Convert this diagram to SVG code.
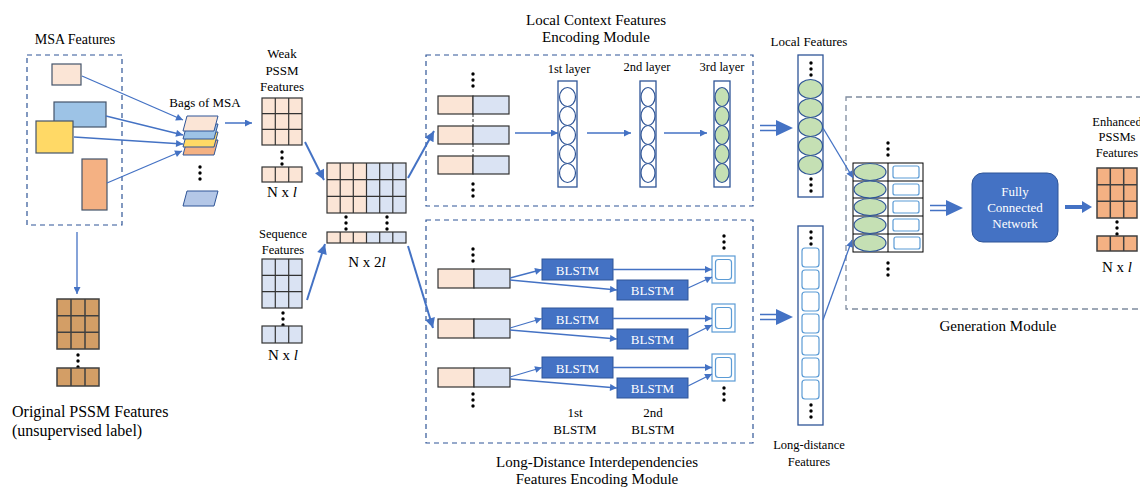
<svg xmlns="http://www.w3.org/2000/svg" width="1140" height="487" viewBox="0 0 1140 487">
<style>
text{font-family:"Liberation Serif","Times New Roman",serif;fill:#000}
.s12{font-size:12.5px}.s13{font-size:13px}.s14{font-size:14px}.s15{font-size:15px}
.nx{font-size:15px}
.mid{text-anchor:middle}
.pe{fill:#FBE5D6;stroke:#333;stroke-width:1.2}
.lb{fill:#DAE3F3;stroke:#333;stroke-width:1.2}
.gl{stroke:#333;stroke-width:1.2;fill:none}
.dash{fill:none;stroke:#2F5597;stroke-width:1.2;stroke-dasharray:5 4}
.gdash{fill:none;stroke:#7F8C9F;stroke-width:1.3;stroke-dasharray:6 4}
.col{fill:#fff;stroke:#2F5597;stroke-width:1.3}
.ew{fill:#fff;stroke:#2F5597;stroke-width:1.2}
.eg{fill:#C5E0B4;stroke:#2F5597;stroke-width:1.2}
.sq{fill:#fff;stroke:#5B9BD5;stroke-width:1.2}
.bl{fill:#4472C4;stroke:#2F5597;stroke-width:1}
.wt{fill:#fff}
.c{stroke:#4472C4;stroke-width:1.3;fill:none;marker-end:url(#ah)}
.ct{stroke:#4472C4;stroke-width:2;fill:none;marker-end:url(#ahb)}
.dbl{stroke:#4472C4;stroke-width:1.5;fill:none}
.af{fill:#4472C4}
.dot{fill:#000}
</style>
<defs>
<marker id="ah" viewBox="0 0 10 10" refX="10" refY="5" markerWidth="9" markerHeight="7" markerUnits="userSpaceOnUse" orient="auto"><path d="M0,0L10,5L0,10z" fill="#4472C4"/></marker>
<marker id="ahb" viewBox="0 0 10 10" refX="10" refY="5" markerWidth="12" markerHeight="10" markerUnits="userSpaceOnUse" orient="auto"><path d="M0,0L10,5L0,10z" fill="#4472C4"/></marker>
<g id="v3"><circle cx="0" cy="0" r="1.7"/><circle cx="0" cy="6" r="1.7"/><circle cx="0" cy="12" r="1.7"/></g>
</defs>

<!-- MSA Features -->
<g id="msa">
<text class="s14 mid" x="75" y="44">MSA Features</text>
<rect class="dash" x="27" y="55" width="95" height="170"/>
<rect x="52" y="64" width="29" height="21" fill="#FBE5D6" stroke="#44546A" stroke-width="1.2"/>
<rect x="54" y="102" width="52" height="25" fill="#9DC3E6" stroke="#44546A" stroke-width="1.2"/>
<rect x="36" y="121" width="37" height="32" fill="#FFD966" stroke="#44546A" stroke-width="1.2"/>
<rect x="82" y="159" width="25" height="51" fill="#F4B183" stroke="#44546A" stroke-width="1.2"/>
</g>

<!-- Bags of MSA -->
<g id="bags">
<text class="s13 mid" x="205" y="107">Bags of MSA</text>
<path d="M187,140H218L214,155H183z" fill="#F4B183" stroke="#2F5597" stroke-width="1"/>
<path d="M187,132H218L214,147H183z" fill="#FFD966" stroke="#2F5597" stroke-width="1"/>
<path d="M187,124H218L214,139H183z" fill="#9DC3E6" stroke="#2F5597" stroke-width="1"/>
<path d="M187,116H218L214,131H183z" fill="#FBE5D6" stroke="#2F5597" stroke-width="1"/>
<use href="#v3" x="200" y="167" class="dot"/>
<path d="M187,191H218L214,206H183z" fill="#B4C7E7" stroke="#2F5597" stroke-width="1"/>
</g>

<!-- Original PSSM -->
<g id="orig">
<rect x="57" y="299" width="42" height="50" fill="#D39E66" stroke="#404040" stroke-width="1.5"/>
<path d="M71,299V349M85,299V349M57,315.7H99M57,332.3H99" stroke="#404040" stroke-width="1.5"/>
<use href="#v3" x="78" y="355" class="dot"/>
<rect x="57" y="368" width="42" height="18" fill="#D39E66" stroke="#404040" stroke-width="1.5"/>
<path d="M71,368V386M85,368V386" stroke="#404040" stroke-width="1.5"/>
<text x="12" y="417" style="font-size:16px">Original PSSM Features</text>
<text x="12" y="436" style="font-size:16px">(unsupervised label)</text>
</g>

<!-- Weak PSSM -->
<g id="weak">
<text class="s13 mid" x="282" y="58">Weak</text>
<text class="s13 mid" x="282" y="75">PSSM</text>
<text class="s13 mid" x="282" y="91">Features</text>
<rect class="pe" x="262" y="98" width="40" height="47"/>
<path class="gl" d="M275.3,98V145M288.7,98V145M262,113.7H302M262,129.3H302"/>
<use href="#v3" x="282" y="152" class="dot"/>
<rect class="pe" x="262" y="167" width="40" height="15"/>
<path class="gl" d="M275.3,167V182M288.7,167V182"/>
<text class="nx mid" x="282" y="197">N x <tspan font-style="italic">l</tspan></text>
</g>

<!-- Sequence -->
<g id="seq">
<text class="s12 mid" x="283" y="238">Sequence</text>
<text class="s12 mid" x="283" y="254">Features</text>
<rect class="lb" x="262" y="259" width="40" height="49"/>
<path class="gl" d="M275.3,259V308M288.7,259V308M262,275.3H302M262,291.7H302"/>
<use href="#v3" x="283" y="313" class="dot"/>
<rect class="lb" x="262" y="326" width="40" height="17"/>
<path class="gl" d="M275.3,326V343M288.7,326V343"/>
<text class="nx mid" x="283" y="360">N x <tspan font-style="italic">l</tspan></text>
</g>

<!-- Combined -->
<g id="comb">
<rect x="327" y="163" width="39.5" height="50" fill="#FBE5D6"/>
<rect x="366.5" y="163" width="39.5" height="50" fill="#DAE3F3"/>
<rect class="gl" x="327" y="163" width="79" height="50"/>
<path class="gl" d="M340.2,163V213M353.3,163V213M366.5,163V213M379.7,163V213M392.8,163V213M327,179.7H406M327,196.3H406"/>
<use href="#v3" x="346" y="217" class="dot"/>
<use href="#v3" x="387" y="217" class="dot"/>
<rect x="327" y="232" width="39.5" height="11" fill="#FBE5D6"/>
<rect x="366.5" y="232" width="39.5" height="11" fill="#DAE3F3"/>
<rect class="gl" x="327" y="232" width="79" height="11"/>
<path class="gl" d="M340.2,232V243M353.3,232V243M366.5,232V243M379.7,232V243M392.8,232V243"/>
<text class="nx mid" x="367" y="267">N x 2<tspan font-style="italic">l</tspan></text>
</g>

<!-- Local context module -->
<g id="local">
<text class="s15 mid" x="596" y="25">Local Context Features</text>
<text class="s15 mid" x="596" y="42">Encoding Module</text>
<rect class="dash" x="426" y="55" width="327" height="151"/>
<use href="#v3" x="473" y="74" class="dot"/>
<rect class="pe" x="438" y="96" width="35" height="18"/><rect class="lb" x="473" y="96" width="36" height="18"/>
<rect class="pe" x="438" y="126" width="35" height="18"/><rect class="lb" x="473" y="126" width="36" height="18"/>
<rect class="pe" x="438" y="156" width="35" height="18"/><rect class="lb" x="473" y="156" width="36" height="18"/>
<path d="M473,114V126M473,144V156" stroke="#333" stroke-width="1" stroke-dasharray="3 2"/>
<use href="#v3" x="473" y="184" class="dot"/>
<text class="s12 mid" x="569" y="73">1st layer</text>
<text class="s12 mid" x="647" y="71">2nd layer</text>
<text class="s12 mid" x="722" y="71">3rd layer</text>
<rect class="col" x="558" y="81" width="19" height="106"/>
<ellipse class="ew" cx="567.5" cy="97" rx="8" ry="9.5"/><ellipse class="ew" cx="567.5" cy="116" rx="8" ry="9.5"/><ellipse class="ew" cx="567.5" cy="135" rx="8" ry="9.5"/><ellipse class="ew" cx="567.5" cy="154" rx="8" ry="9.5"/><ellipse class="ew" cx="567.5" cy="173" rx="8" ry="9.5"/>
<rect class="col" x="640" y="81" width="16" height="106"/>
<ellipse class="ew" cx="648" cy="97" rx="7" ry="9.5"/><ellipse class="ew" cx="648" cy="116" rx="7" ry="9.5"/><ellipse class="ew" cx="648" cy="135" rx="7" ry="9.5"/><ellipse class="ew" cx="648" cy="154" rx="7" ry="9.5"/><ellipse class="ew" cx="648" cy="173" rx="7" ry="9.5"/>
<rect class="col" x="714" y="81" width="16" height="106"/>
<ellipse class="eg" cx="722" cy="97" rx="7" ry="9.5"/><ellipse class="eg" cx="722" cy="116" rx="7" ry="9.5"/><ellipse class="eg" cx="722" cy="135" rx="7" ry="9.5"/><ellipse class="eg" cx="722" cy="154" rx="7" ry="9.5"/><ellipse class="eg" cx="722" cy="173" rx="7" ry="9.5"/>
</g>

<!-- Long-distance module -->
<g id="longmod">
<rect class="dash" x="426" y="220" width="327" height="223"/>
<use href="#v3" x="473" y="249" class="dot"/>
<rect class="pe" x="438" y="269" width="36" height="19"/><rect class="lb" x="474" y="269" width="36" height="19"/>
<rect class="pe" x="438" y="319" width="36" height="19"/><rect class="lb" x="474" y="319" width="36" height="19"/>
<rect class="pe" x="438" y="368" width="36" height="19"/><rect class="lb" x="474" y="368" width="36" height="19"/>
<use href="#v3" x="473" y="394" class="dot"/>
<rect class="bl" x="542" y="259" width="71" height="21"/><text class="s13 mid wt" x="577.5" y="274.5">BLSTM</text>
<rect class="bl" x="617" y="280" width="71" height="20"/><text class="s13 mid wt" x="652.5" y="295">BLSTM</text>
<rect class="bl" x="542" y="308" width="71" height="21"/><text class="s13 mid wt" x="577.5" y="323.5">BLSTM</text>
<rect class="bl" x="617" y="329" width="71" height="20"/><text class="s13 mid wt" x="652.5" y="344">BLSTM</text>
<rect class="bl" x="542" y="357" width="71" height="21"/><text class="s13 mid wt" x="577.5" y="372.5">BLSTM</text>
<rect class="bl" x="617" y="378" width="71" height="20"/><text class="s13 mid wt" x="652.5" y="393">BLSTM</text>
<use href="#v3" x="724" y="236" class="dot"/>
<rect class="sq" x="712" y="256" width="23" height="27"/><rect class="sq" x="715.5" y="259.5" width="16" height="20" rx="3"/>
<rect class="sq" x="712" y="304" width="23" height="28"/><rect class="sq" x="715.5" y="307.5" width="16" height="21" rx="3"/>
<rect class="sq" x="712" y="354" width="23" height="27"/><rect class="sq" x="715.5" y="357.5" width="16" height="20" rx="3"/>
<use href="#v3" x="724" y="388" class="dot"/>
<text class="s13 mid" x="575" y="417">1st</text><text class="s13 mid" x="575" y="434">BLSTM</text>
<text class="s13 mid" x="653" y="417">2nd</text><text class="s13 mid" x="653" y="434">BLSTM</text>
<text class="s15 mid" x="597" y="467">Long-Distance Interdependencies</text>
<text class="s15 mid" x="597" y="484">Features Encoding Module</text>
</g>

<!-- Local Features column -->
<g id="localfeat">
<text class="s13 mid" x="809" y="46">Local Features</text>
<rect class="col" x="798" y="55" width="25" height="142"/>
<use href="#v3" x="811" y="63" class="dot"/>
<ellipse class="eg" cx="810.5" cy="89" rx="12" ry="9.5"/><ellipse class="eg" cx="810.5" cy="108" rx="12" ry="9.5"/><ellipse class="eg" cx="810.5" cy="127" rx="12" ry="9.5"/><ellipse class="eg" cx="810.5" cy="146" rx="12" ry="9.5"/><ellipse class="eg" cx="810.5" cy="165" rx="12" ry="9.5"/>
<use href="#v3" x="811" y="179" class="dot"/>
</g>

<!-- Long-distance features column -->
<g id="longfeat">
<rect class="col" x="798" y="226" width="25" height="199"/>
<use href="#v3" x="811" y="232" class="dot"/>
<rect class="sq" x="802" y="248" width="17" height="19" rx="3"/>
<rect class="sq" x="802" y="270" width="17" height="19" rx="3"/>
<rect class="sq" x="802" y="292" width="17" height="19" rx="3"/>
<rect class="sq" x="802" y="314" width="17" height="19" rx="3"/>
<rect class="sq" x="802" y="336" width="17" height="19" rx="3"/>
<rect class="sq" x="802" y="358" width="17" height="19" rx="3"/>
<rect class="sq" x="802" y="380" width="17" height="19" rx="3"/>
<use href="#v3" x="811" y="405" class="dot"/>
<text class="s12 mid" x="809" y="449">Long-distance</text>
<text class="s12 mid" x="809" y="466">Features</text>
</g>

<!-- Generation module -->
<g id="gen">
<rect class="gdash" x="846" y="97" width="310" height="212"/>
<text class="s15 mid" x="998" y="331">Generation Module</text>
<use href="#v3" x="888" y="143" class="dot"/>
<rect x="853" y="163" width="70" height="89" fill="#fff" stroke="#000" stroke-width="1"/>
<path d="M888,163V252M853,181H923M853,198H923M853,216H923M853,234H923" stroke="#000" stroke-width="1"/>
<ellipse class="eg" cx="870" cy="172" rx="16" ry="8.5"/><ellipse class="eg" cx="870" cy="189.5" rx="16" ry="8.5"/><ellipse class="eg" cx="870" cy="207" rx="16" ry="8.5"/><ellipse class="eg" cx="870" cy="225" rx="16" ry="8.5"/><ellipse class="eg" cx="870" cy="243" rx="16" ry="8.5"/>
<rect class="sq" x="893" y="166" width="26" height="12" rx="2"/>
<rect class="sq" x="893" y="184" width="26" height="11" rx="2"/>
<rect class="sq" x="893" y="201" width="26" height="12" rx="2"/>
<rect class="sq" x="893" y="219" width="26" height="12" rx="2"/>
<rect class="sq" x="894" y="237" width="26" height="12" rx="2"/>
<use href="#v3" x="888" y="263" class="dot"/>
<rect x="972" y="173" width="86" height="69" rx="11" fill="#4472C4" stroke="#2F5597" stroke-width="1"/>
<text class="s13 mid wt" x="1015" y="196">Fully</text>
<text class="s13 mid wt" x="1015" y="212">Connected</text>
<text class="s13 mid wt" x="1015" y="228">Network</text>
<text class="s12 mid" x="1117" y="126">Enhanced</text>
<text class="s12 mid" x="1117" y="141">PSSMs</text>
<text class="s12 mid" x="1117" y="157">Features</text>
<rect x="1097" y="168" width="40" height="50" fill="#F4B183" stroke="#404040" stroke-width="1.5"/>
<path d="M1110.3,168V218M1123.7,168V218M1097,184.7H1137M1097,201.3H1137" stroke="#404040" stroke-width="1.5"/>
<use href="#v3" x="1117" y="222" class="dot"/>
<rect x="1097" y="236" width="40" height="15" fill="#F4B183" stroke="#404040" stroke-width="1.5"/>
<path d="M1110.3,236V251M1123.7,236V251" stroke="#404040" stroke-width="1.5"/>
<text class="nx mid" x="1117" y="272">N x <tspan font-style="italic">l</tspan></text>
</g>

<!-- Connectors -->
<g id="connectors">
<path class="c" d="M82,76L183,120"/>
<path class="c" d="M106,116L183,135"/>
<path class="c" d="M74,137L183,144"/>
<path class="c" d="M107,183L182,151"/>
<path class="c" d="M77,232V294"/>
<path class="c" style="stroke-width:1.5" d="M225,123H252"/>
<path class="ct" d="M305,142L324,180"/>
<path class="ct" d="M307,300L325,244"/>
<path class="ct" d="M408,178L434,131"/>
<path class="ct" d="M408,246L433,328"/>
<path class="c" d="M515,133H558"/>
<path class="c" d="M587,133H631"/>
<path class="c" d="M664,133H707"/>
<path class="c" d="M510,278L542,269.5"/>
<path class="c" d="M510,280L617,290"/>
<path class="c" d="M613,269.5H712"/>
<path class="c" d="M688,288L712,277"/>
<path class="c" d="M510,328L542,318.5"/>
<path class="c" d="M510,330L617,339"/>
<path class="c" d="M613,318.5H712"/>
<path class="c" d="M688,337L712,325"/>
<path class="c" d="M510,377L542,367.5"/>
<path class="c" d="M510,379L617,388"/>
<path class="c" d="M613,367.5H712"/>
<path class="c" d="M688,386L712,374"/>
<path class="c" d="M823,128L853,178"/>
<path class="c" d="M823,320L852,240"/>
<path class="dbl" d="M760,125.5H778M760,130.5H778"/><path class="af" d="M776,120L793,128L776,136z"/>
<path class="dbl" d="M760,314.5H778M760,319.5H778"/><path class="af" d="M776,309L793,317L776,325z"/>
<path class="dbl" d="M930,205.5H948M930,210.5H948"/><path class="af" d="M946,200L963,208L946,216z"/>
<path d="M1065,207H1084" stroke="#4472C4" stroke-width="4"/><path class="af" d="M1082,201L1092,207L1082,213z"/>
</g>
</svg>
